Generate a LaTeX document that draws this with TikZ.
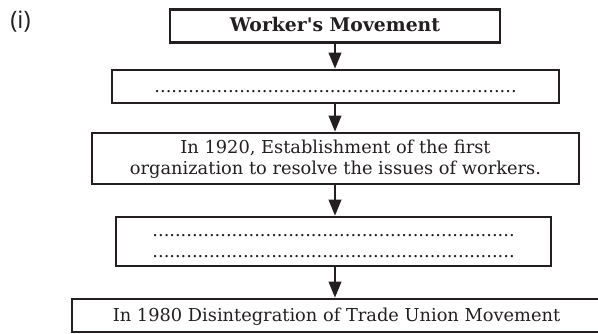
\documentclass[tikz,border=0pt]{standalone}
\usepackage{fontspec}
\setmainfont{DejaVu Serif}
\newfontfamily\labelfont{Open Sans}
\usetikzlibrary{arrows.meta}
\definecolor{ink}{HTML}{231F20}
\newcommand\mystrut{\rule[-4pt]{0pt}{20pt}}
\begin{document}
\begin{tikzpicture}[x=1pt,y=-1pt,
  flowbox/.style={draw=ink, line width=2.6pt, text=ink, inner sep=0pt,
    align=center, font=\fontsize{17.8}{21}\selectfont},
  flowarrow/.style={draw=ink, line width=2.2pt,
    -{Triangle[length=16pt,width=12.5pt]}}]
\useasboundingbox (0,0) rectangle (598,334);
\node[text=ink, font=\labelfont\fontsize{24}{28}\selectfont] (lab) at (20.5,21.5) {(i)};
\node[flowbox, minimum width=330pt, minimum height=33pt] (b1) at (335,26)
  {\mystrut\fontsize{18.8}{21}\selectfont\textbf{Worker\textquotesingle s Movement}};
\node[flowbox, minimum width=447pt, minimum height=33pt] (b2) at (335.5,86.5)
  {\mystrut................................................................};
\node[flowbox, minimum width=487pt, minimum height=51pt] (b3) at (335.5,158.5)
  {\mystrut In 1920, Establishment of the first\\ \mystrut organization to resolve the issues of workers.};
\node[flowbox, minimum width=435pt, minimum height=49pt] (b4) at (333.5,241.5)
  {\mystrut................................................................\\ \mystrut................................................................};
\node[flowbox, minimum width=529pt, minimum height=33pt] (b5) at (336.5,315.5)
  {\mystrut In 1980 Disintegration of Trade Union Movement};
\draw[flowarrow] (b1.south) -- (b1.south |- b2.north);
\draw[flowarrow] (b2.south -| b1.south) -- (b1.south |- b3.north);
\draw[flowarrow] (b3.south -| b1.south) -- (b1.south |- b4.north);
\draw[flowarrow] (b4.south -| b1.south) -- (b1.south |- b5.north);
\end{tikzpicture}
\end{document}
